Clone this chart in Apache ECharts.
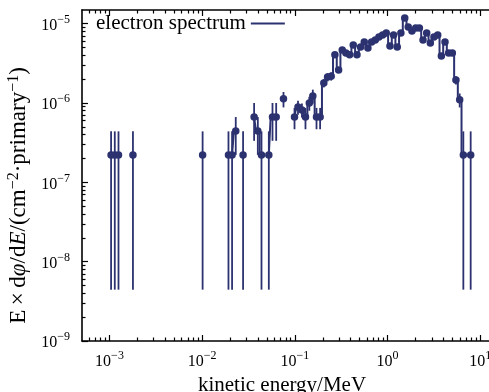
<!DOCTYPE html>
<html>
<head>
<meta charset="utf-8">
<script src="https://cdn.jsdelivr.net/npm/echarts@6/dist/echarts.min.js"></script>
<style>
  html, body { margin: 0; padding: 0; background: #fff; }
  #chart { width: 489px; height: 392px; }
</style>
</head>
<body>
<div id="chart"></div>
<script>
// bin centres (MeV) that have counts
const energies = [
  1.04e-3, 1.14e-3, 1.25e-3, 1.79e-3, 1.01e-2, 1.92e-2, 2.10e-2, 2.30e-2,
  2.76e-2, 3.63e-2, 3.98e-2, 4.36e-2, 5.23e-2, 5.73e-2, 6.28e-2, 7.53e-2,
  0.0990, 0.108, 0.119, 0.130, 0.143, 0.156, 0.171, 0.187, 0.205, 0.225,
  0.246, 0.270, 0.296, 0.324, 0.355, 0.389, 0.426, 0.467, 0.511, 0.560,
  0.613, 0.672, 0.736, 0.806, 0.883, 0.967, 1.06, 1.16, 1.27, 1.39,
  1.53, 1.67, 1.83, 2.01, 2.20, 2.41, 2.64, 2.89, 3.16, 3.47,
  3.80, 4.16, 4.55, 4.99, 5.46, 5.99, 6.56, 7.87
];
// E x dphi/dE
const values = [
  2.22e-7, 2.22e-7, 2.22e-7, 2.22e-7, 2.22e-7, 2.22e-7, 2.22e-7, 4.44e-7,
  2.22e-7, 6.68e-7, 4.44e-7, 2.22e-7, 2.22e-7, 6.68e-7, 6.68e-7, 1.13e-6,
  6.68e-7, 8.9e-7, 8.2e-7, 6.68e-7, 1.0e-6, 1.23e-6, 6.68e-7, 6.68e-7, 1.79e-6, 2.13e-6,
  2.18e-6, 4.05e-6, 2.61e-6, 4.67e-6, 4.28e-6, 4.05e-6, 5.4e-6, 4.05e-6, 5.1e-6, 5.9e-6,
  4.95e-6, 5.9e-6, 6.25e-6, 6.82e-6, 7.22e-6, 7.66e-6, 5.25e-6, 7.22e-6, 5.1e-6, 7.66e-6,
  1.18e-5, 9.12e-6, 8.11e-6, 8.85e-6, 8.85e-6, 6.25e-6, 7.66e-6, 5.73e-6, 6.82e-6, 7.22e-6,
  3.93e-6, 5.9e-6, 4.28e-6, 4.28e-6, 1.95e-6, 1.10e-6, 2.22e-7, 2.22e-7
];
// relative error of each point
const relErr = [
  0.98, 0.98, 0.98, 0.98, 0.98, 0.98, 0.98, 0.5,
  0.98, 0.5, 0.5, 0.98, 0.98, 0.5, 0.5, 0.22,
  0.3, 0.2, 0.2, 0.3, 0.2, 0.2, 0.3, 0.3, 0.12, 0.12,
  0.12, 0.06, 0.08, 0.06, 0.06, 0.06, 0.06, 0.06, 0.06, 0.06,
  0.06, 0.06, 0.06, 0.06, 0.06, 0.06, 0.06, 0.06, 0.06, 0.06,
  0.06, 0.06, 0.06, 0.06, 0.06, 0.06, 0.06, 0.06, 0.06, 0.06,
  0.06, 0.06, 0.06, 0.06, 0.12, 0.2, 0.98, 0.98
];
const majorX = [1e-3, 1e-2, 1e-1, 1, 10];
const majorY = [1e-9, 1e-8, 1e-7, 1e-6, 1e-5];

const X_MIN = 5.05e-4, X_MAX = 14.4;
const Y_MIN = 1e-9, Y_MAX = 1.49e-5;
const COLOR = '#2c3270';
const FONT = 'Liberation Serif';
const NAME = 'electron spectrum';

function minorTicks(lo, hi, dmin, dmax) {
  let out = [];
  for (let d = dmin; d <= dmax; d++) {
    for (let m = 2; m <= 9; m++) {
      let v = m * Math.pow(10, d);
      if (v > lo && v < hi) out.push(v);
    }
  }
  return out;
}
const minorX = minorTicks(X_MIN, X_MAX, -4, 1);
const minorY = minorTicks(Y_MIN, Y_MAX, -9, -5);

// split into runs of neighbouring bins (empty bins break the line)
let runs = [];
energies.forEach((e, i) => {
  if (i == 0 || e / energies[i - 1] > 1.15) runs.push([]);
  runs[runs.length - 1].push([e, values[i]]);
});
const errData = energies.map((e, i) => [e, values[i] * (1 - relErr[i]), values[i] * (1 + relErr[i])]);

const tickRich = {
  b: { fontSize: 16, fontFamily: FONT, color: '#000', verticalAlign: 'bottom' },
  s: { fontSize: 12, fontFamily: FONT, color: '#000', verticalAlign: 'bottom', padding: [0, 0, 8, 0] }
};
function powLabel(v) {
  let p = Math.round(Math.log10(v));
  return '{b|10}{s|' + (p < 0 ? '\u2212' + (-p) : p) + '}';
}

function xAxisDef(pos, major, withLabel) {
  return {
    type: 'log', logBase: 10, position: pos, min: X_MIN, max: X_MAX,
    axisLine: { show: major, onZero: false, lineStyle: { color: '#000', width: 1.6 } },
    axisTick: { show: true, inside: true, length: major ? 6 : 3.5, customValues: major ? majorX : minorX,
      lineStyle: { color: '#000', width: 1.2 } },
    axisLabel: withLabel ? { show: true, customValues: majorX, formatter: powLabel, rich: tickRich, margin: 9 } : { show: false },
    splitLine: { show: false },
    minorTick: { show: false }
  };
}
function yAxisDef(major, withLabel) {
  return {
    type: 'log', logBase: 10, position: 'left', min: Y_MIN, max: Y_MAX,
    axisLine: { show: major, onZero: false, lineStyle: { color: '#000', width: 1.6 } },
    axisTick: { show: true, inside: true, length: major ? 6 : 3.5, customValues: major ? majorY : minorY,
      lineStyle: { color: '#000', width: 1.2 } },
    axisLabel: withLabel ? { show: true, customValues: majorY, formatter: powLabel, rich: tickRich, margin: 12 } : { show: false },
    splitLine: { show: false },
    minorTick: { show: false }
  };
}

let xMain = xAxisDef('bottom', true, true);
xMain.name = 'kinetic energy/MeV';
xMain.nameLocation = 'middle';
xMain.nameGap = 31;
xMain.nameTextStyle = { fontFamily: FONT, fontSize: 21, color: '#000', padding: [0, 13, 0, 0] };

let yMain = yAxisDef(true, true);
yMain.name = 'E\u2009\u00d7\u2009d{i|\u03c6}/d{i|E}/(cm{s|\u22122}\u00b7primary{s|\u22121})';
yMain.nameLocation = 'middle';
yMain.nameGap = 46;
yMain.nameTextStyle = {
  fontFamily: FONT, fontSize: 23, color: '#000', padding: [0, 40, 0, 0],
  rich: {
    i: { fontFamily: FONT, fontSize: 23, fontStyle: 'italic', color: '#000' },
    s: { fontFamily: FONT, fontSize: 16, color: '#000', verticalAlign: 'bottom', padding: [0, 0, 10, 0] }
  }
};

let series = [{
  name: 'errors', type: 'custom', xAxisIndex: 0, yAxisIndex: 0, z: 2, silent: true,
  encode: { x: 0, y: [1, 2] },
  data: errData,
  renderItem: function (params, api) {
    let p1 = api.coord([api.value(0), api.value(1)]);
    let p2 = api.coord([api.value(0), api.value(2)]);
    return { type: 'line', shape: { x1: p1[0], y1: p1[1], x2: p2[0], y2: p2[1] },
      style: { stroke: COLOR, lineWidth: 1.8 } };
  }
}];
runs.forEach(run => {
  series.push({
    name: NAME, type: 'line', xAxisIndex: 0, yAxisIndex: 0, z: 3,
    step: 'middle', data: run,
    symbol: 'circle', symbolSize: 7.5, showSymbol: true,
    itemStyle: { color: COLOR },
    lineStyle: { color: COLOR, width: 2 }
  });
});

const chart = echarts.init(document.getElementById('chart'), null, { renderer: 'canvas' });
chart.setOption({
  animation: false,
  backgroundColor: '#fff',
  grid: { left: 82, top: 10, width: 413, height: 331, outerBoundsMode: 'none', containLabel: false },
  legend: {
    left: 91, top: 8, align: 'right', itemWidth: 34, itemHeight: 2, itemGap: 10,
    textStyle: { fontFamily: FONT, fontSize: 21, color: '#000' },
    data: [{ name: NAME, icon: 'rect' }]
  },
  xAxis: [xMain, xAxisDef('bottom', false, false), xAxisDef('top', true, false), xAxisDef('top', false, false)],
  yAxis: [yMain, yAxisDef(false, false)],
  series: series
});
</script>
</body>
</html>
